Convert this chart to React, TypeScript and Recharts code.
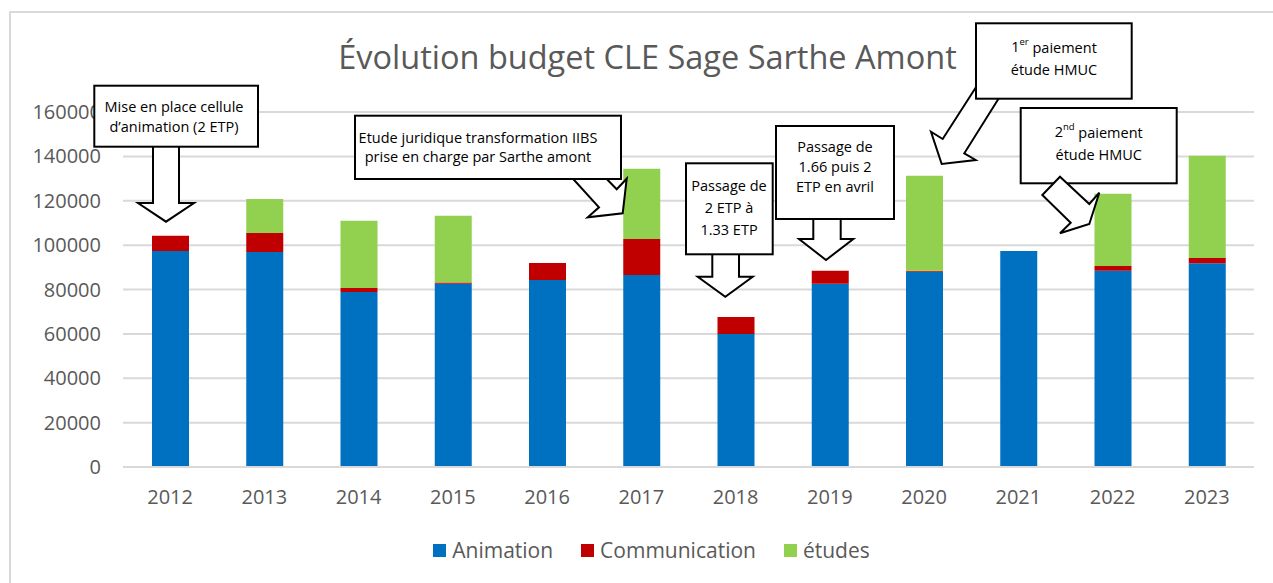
import React from 'react';
import { BarChart, Bar, XAxis, YAxis, CartesianGrid } from 'recharts';

// Données
const years = ['2012', '2013', '2014', '2015', '2016', '2017', '2018', '2019', '2020', '2021', '2022', '2023'];
const animation = [97400, 96900, 78900, 82600, 84300, 86500, 59900, 82600, 88000, 97400, 88400, 91800];
const communication = [6800, 8600, 1800, 500, 7700, 16300, 7700, 5800, 500, 0, 2200, 2400];
const etudes = [0, 15300, 30300, 30100, 0, 31600, 0, 0, 42800, 0, 32500, 46100];
const yTicks = [0, 20000, 40000, 60000, 80000, 100000, 120000, 140000, 160000];

const series = [
  { key: 'animation', name: 'Animation', color: '#0070C0' },
  { key: 'communication', name: 'Communication', color: '#C00000' },
  { key: 'etudes', name: 'études', color: '#92D050' },
];

const data = years.map((year, i) => ({
  year,
  animation: animation[i],
  communication: communication[i],
  etudes: etudes[i],
}));

const FONT = '"Open Sans", Calibri, sans-serif';
const GREY = '#595959';

// Légende (carrés + libellés)
const LegendBlock = () => (
  <div
    style={{
      position: 'absolute', left: 0, width: 1273, top: 535, height: 30,
      display: 'flex', justifyContent: 'center', alignItems: 'center', gap: 28,
      fontFamily: FONT, fontSize: 21, color: GREY, paddingLeft: 30, boxSizing: 'border-box',
    }}
  >
    {series.map(s => (
      <div key={s.key} style={{ display: 'flex', alignItems: 'center' }}>
        <span style={{ width: 13, height: 13, background: s.color, display: 'inline-block', marginRight: 6 }} />
        <span>{s.name}</span>
      </div>
    ))}
  </div>
);

// Bulles d'annotation
const Callouts = () => {
  const box = { fill: '#fff', stroke: '#000', strokeWidth: 2 };
  const txt = { fontFamily: FONT, fontSize: 14.5, fill: '#000', textAnchor: 'middle' as const, dominantBaseline: 'central' as const };
  return (
    <svg width={1273} height={583} style={{ position: 'absolute', left: 0, top: 0, pointerEvents: 'none' }}>
      {/* 2012 */}
      <polygon points="153,140 179,140 179,203 194,203 166,221.7 138,203 153,203" {...box} />
      <rect x={94.3} y={85.7} width={163.7} height={61} {...box} />
      <text x={174} y={106.7} {...txt}>Mise en place cellule</text>
      <text x={174} y={126.7} {...txt}>d’animation (2 ETP)</text>

      {/* 2017 */}
      <polygon points="565,170 599,207.3 587.7,217.3 622.7,213.3 626.7,178.7 616.7,189.3 598,170" {...box} />
      <rect x={355} y={115.7} width={266} height={63.3} {...box} />
      <text x={478} y={137.3} {...txt}>Etude juridique transformation IIBS</text>
      <text x={478} y={156.5} {...txt}>prise en charge par Sarthe amont</text>

      {/* 2018 */}
      <polygon points="712.3,250 739,250 739,276.7 752.7,276.7 725.3,296.7 697.7,276.7 712.3,276.7" {...box} />
      <rect x={686} y={163.3} width={86.7} height={91} {...box} />
      <text x={729} y={185} {...txt}>Passage de</text>
      <text x={729} y={207} {...txt}>2 ETP à</text>
      <text x={729} y={229.3} {...txt}>1.33 ETP</text>

      {/* 2019 */}
      <polygon points="813.3,215 840.7,215 840.7,239 853.3,239 826,260 799,239 813.3,239" {...box} />
      <rect x={776} y={126} width={118} height={93} {...box} />
      <text x={835} y={146.7} {...txt}>Passage de</text>
      <text x={835} y={166.7} {...txt}>1.66 puis 2</text>
      <text x={835} y={186.7} {...txt}>ETP en avril</text>

      {/* 2020 */}
      <polygon points="980.6,80 942.7,139 931,131.7 941.7,164 975.7,160 964.3,153.3 1004,90" {...box} />
      <rect x={976} y={23.3} width={155.7} height={75.4} {...box} />
      <text x={1054} y={46.7} {...txt}>
        1<tspan fontSize={9.5} dy={-6}>er</tspan>
        <tspan dy={6}> paiement</tspan>
      </text>
      <text x={1054} y={69} {...txt}>étude HMUC</text>

      {/* 2022 */}
      <rect x={1020.7} y={108} width={156} height={75.3} {...box} />
      <polygon points="1060,176.7 1089.3,204 1099.3,192.7 1089.3,224 1060,233.3 1070.7,222.7 1042.3,195" {...box} />
      <text x={1098.7} y={131.7} {...txt}>
        2<tspan fontSize={9.5} dy={-6}>nd</tspan>
        <tspan dy={6}> paiement</tspan>
      </text>
      <text x={1098.7} y={154} {...txt}>étude HMUC</text>
    </svg>
  );
};

export default function App() {
  return (
    <div style={{ position: 'absolute', left: 0, top: 0, width: 1273, height: 583, background: '#fff', overflow: 'hidden' }}>
      <div style={{ position: 'absolute', left: 9, top: 11, right: -5, bottom: -5, borderLeft: '2px solid #d9d9d9', borderTop: '2px solid #d9d9d9' }} />
      <div style={{ position: 'absolute', left: 0, width: 1295, top: 34, textAlign: 'center', fontFamily: FONT, fontSize: 32.5, color: GREY, whiteSpace: 'nowrap' }}>
        Évolution budget CLE Sage Sarthe Amont
      </div>
      <BarChart
        width={1273}
        height={583}
        data={data}
        margin={{ top: 112, right: 19, left: 0, bottom: 86 }}
        barSize={37}
        style={{ position: 'absolute', left: 0, top: 0 }}
      >
        <CartesianGrid vertical={false} stroke="#d9d9d9" strokeWidth={2} />
        <XAxis
          dataKey="year"
          height={30}
          axisLine={{ stroke: '#d9d9d9', strokeWidth: 2 }}
          tickLine={false}
          tickSize={0}
          tickMargin={23}
          tick={{ fill: GREY, fontSize: 20, fontFamily: FONT }}
        />
        <YAxis
          width={123}
          domain={[0, 160000]}
          ticks={yTicks}
          axisLine={false}
          tickLine={false}
          tickSize={0}
          tickMargin={22}
          tick={{ fill: GREY, fontSize: 20, fontFamily: FONT }}
        />
        {series.map(s => (
          <Bar key={s.key} dataKey={s.key} name={s.name} stackId="a" fill={s.color} isAnimationActive={false} />
        ))}
      </BarChart>
      <LegendBlock />
      <Callouts />
    </div>
  );
}
